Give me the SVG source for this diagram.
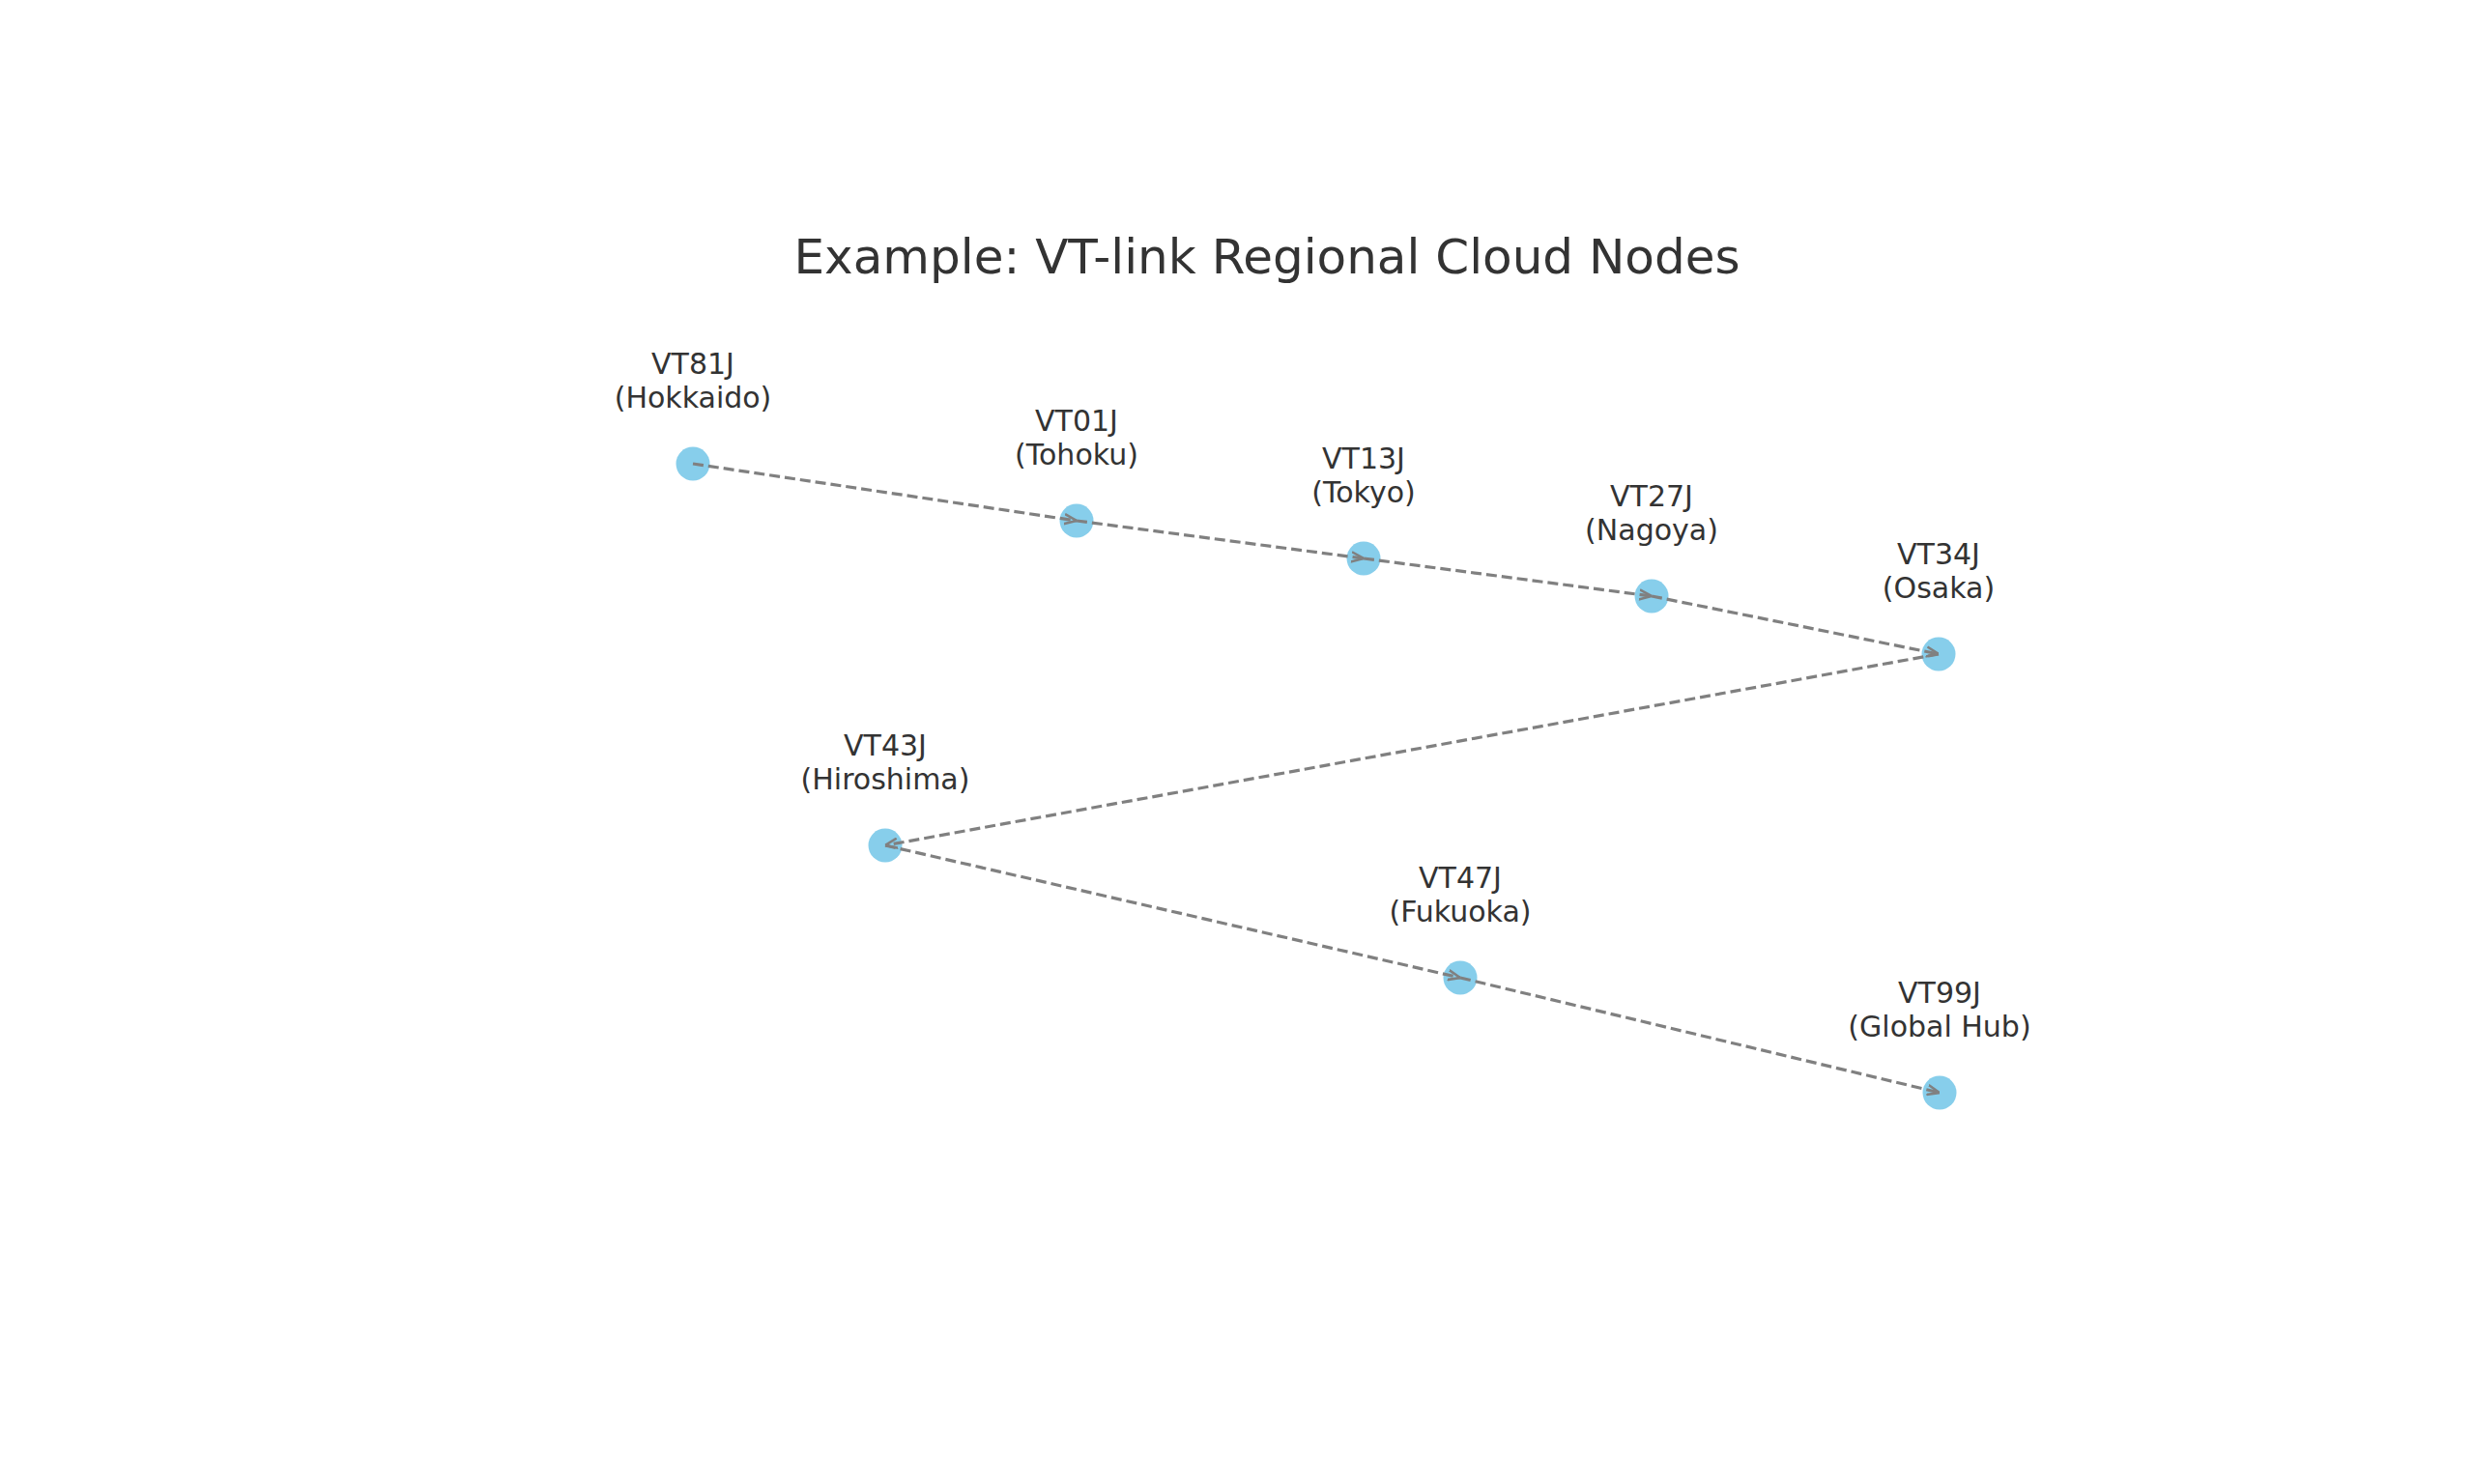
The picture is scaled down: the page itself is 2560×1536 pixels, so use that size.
<svg xmlns="http://www.w3.org/2000/svg" width="2560" height="1536" viewBox="0 0 2560 1536">
<defs>
<style>
.n{fill:#87ceeb}
.t{font-family:"DejaVu Sans",sans-serif;font-size:30px;fill:#333;text-anchor:middle}
.e{stroke:#808080;stroke-width:3.2;stroke-dasharray:11,5;fill:none}
</style>
<marker id="a" viewBox="0 0 10 10" refX="10" refY="5" markerWidth="4" markerHeight="4" orient="auto" markerUnits="strokeWidth"><path d="M0,1 L10,5 L0,9" fill="none" stroke="#808080" stroke-width="2"/></marker>
</defs>
<rect width="2560" height="1536" fill="#fff"/>
<text x="1311" y="283" font-family="DejaVu Sans,sans-serif" font-size="50" fill="#333" text-anchor="middle">Example: VT-link Regional Cloud Nodes</text>
<g id="n81"><circle class="n" cx="717" cy="480" r="17.5"/><text class="t" x="717" y="387">VT81J</text><text class="t" x="717" y="422">(Hokkaido)</text></g>
<g id="n01"><circle class="n" cx="1114" cy="539" r="17.5"/><text class="t" x="1114" y="446">VT01J</text><text class="t" x="1114" y="481">(Tohoku)</text></g>
<g id="n13"><circle class="n" cx="1411" cy="578" r="17.5"/><text class="t" x="1411" y="485">VT13J</text><text class="t" x="1411" y="520">(Tokyo)</text></g>
<g id="n27"><circle class="n" cx="1709" cy="617" r="17.5"/><text class="t" x="1709" y="524">VT27J</text><text class="t" x="1709" y="559">(Nagoya)</text></g>
<g id="n34"><circle class="n" cx="2006" cy="677" r="17.5"/><text class="t" x="2006" y="584">VT34J</text><text class="t" x="2006" y="619">(Osaka)</text></g>
<g id="n43"><circle class="n" cx="916" cy="875" r="17.5"/><text class="t" x="916" y="782">VT43J</text><text class="t" x="916" y="817">(Hiroshima)</text></g>
<g id="n47"><circle class="n" cx="1511" cy="1012" r="17.5"/><text class="t" x="1511" y="919">VT47J</text><text class="t" x="1511" y="954">(Fukuoka)</text></g>
<g id="n99"><circle class="n" cx="2007" cy="1131" r="17.5"/><text class="t" x="2007" y="1038">VT99J</text><text class="t" x="2007" y="1073">(Global Hub)</text></g>
<g id="edges">
<line class="e" x1="717" y1="480" x2="1114" y2="539" marker-end="url(#a)"/>
<line class="e" x1="1114" y1="539" x2="1411" y2="578" marker-end="url(#a)"/>
<line class="e" x1="1411" y1="578" x2="1709" y2="617" marker-end="url(#a)"/>
<line class="e" x1="1709" y1="617" x2="2006" y2="677" marker-end="url(#a)"/>
<line class="e" x1="2006" y1="677" x2="916" y2="875" marker-end="url(#a)"/>
<line class="e" x1="916" y1="875" x2="1511" y2="1012" marker-end="url(#a)"/>
<line class="e" x1="1511" y1="1012" x2="2007" y2="1131" marker-end="url(#a)"/>
</g>
</svg>
